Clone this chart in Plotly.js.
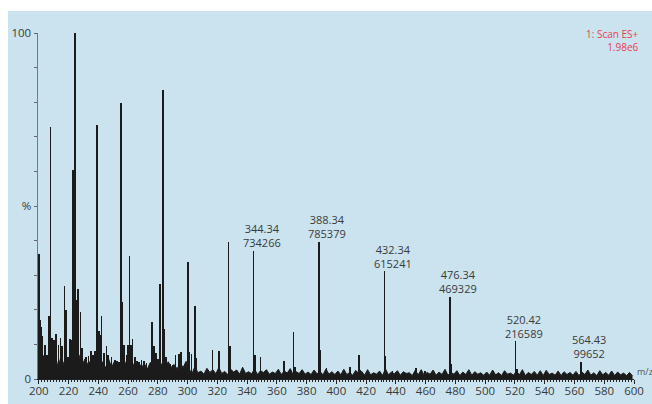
<!DOCTYPE html>
<html>
<head>
<meta charset="utf-8">
<script src="https://cdn.plot.ly/plotly-3.0.1.min.js"></script>
<style>
html,body{margin:0;padding:0;background:#ffffff;width:652px;height:404px;overflow:hidden;}
#chart{position:absolute;left:8px;top:11px;width:644px;height:393px;}
</style>
</head>
<body>
<div id="chart"></div>
<script>
// Centroid peaks (m/z, relative intensity %)
const peakMz = [200.0,200.7,201.8,202.4,204.0,205.6,206.9,208.0,209.1,210.3,211.8,213.2,214.5,215.6,217.2,218.1,219.7,221.2,222.1,223.0,224.2,225.3,226.4,228.0,229.1,231.6,233.4,234.9,236.5,237.8,239.2,240.3,241.2,242.1,243.7,245.5,246.4,247.7,249.0,251.1,252.7,254.0,255.1,256.2,257.1,258.9,260.0,260.9,262.0,262.9,264.5,266.1,267.4,269.0,270.6,272.4,273.9,275.5,276.2,277.3,278.6,280.2,281.3,283.3,284.2,285.4,286.9,288.5,290.3,291.9,294.1,295.5,300.2,301.1,302.6,305.1,306.0,316.8,321.0,327.5,328.4,332.9,344.34,345.2,349.0,364.9,371.2,372.1,388.34,389.4,393.4,401.3,409.1,415.0,415.8,432.34,433.1,437.6,453.3,459.5,476.34,477.4,520.42,521.5,564.43,565.3];
const peakInt = [36,17,15,12.3,9.9,7,18.3,72.8,11.8,11.4,13,9.9,11.8,9.4,27,20,6.5,11.6,11.4,60.5,100,22.9,26.1,19.5,9,6.4,6.7,8,7,8,73.5,13.8,12.8,18.1,7.5,9.4,7,3.6,6.4,5.6,5.3,5,79.8,22.4,9.9,7,9.9,35.6,9.9,11.6,6.5,5.1,4.8,5.6,5.3,4.6,3.2,4.6,16.5,9.4,7.5,5.9,27.5,83.4,14.5,6.5,4.6,4.4,4.1,7,7.3,7.8,33.7,7.8,7.3,21,6,8.3,8.2,39.6,9.4,2.7,37.1,7,6.4,5.3,13.6,3.6,39.7,8.5,3.2,2.0,3.6,7,2.5,31.1,6.7,2.2,3.2,2.2,23.7,4.4,10.9,2.9,5.0,2.0];

// Baseline noise (m/z, relative intensity %)
const noiseMz = [201,203,205,207,209,211,213,215,217,219,
221,223,225,227,229,231,233,235,237,239,
241,243,245,247,249,251,253,255,257,259,
261,263,265,267,269,271,273,275,277,279,
281,283,285,287,289,291,293,295,297,299,
301,303,305,307,309,311,313,315,317,319,
321,323,325,327,329,331,333,335,337,339,
341,343,345,347,349,351,353,355,357,359,
361,363,365,367,369,371,373,375,377,379,
381,383,385,387,389,391,393,395,397,399,
401,403,405,407,409,411,413,415,417,419,
421,423,425,427,429,431,433,435,437,439,
441,443,445,447,449,451,453,455,457,459,
461,463,465,467,469,471,473,475,477,479,
481,483,485,487,489,491,493,495,497,499,
501,503,505,507,509,511,513,515,517,519,
521,523,525,527,529,531,533,535,537,539,
541,543,545,547,549,551,553,555,557,559,
561,563,565,567,569,571,573,575,577,579,
581,583,585,587,589,591,593,595,597,599];
const noiseInt = [4.2,6.8,3.6,6.0,3.8,7.2,3.3,6.6,4.0,5.6,
3.4,6.3,4.6,7.0,3.7,5.8,4.2,5.4,3.5,6.1,
3.8,5.0,3.2,5.7,3.4,5.2,3.9,4.6,3.0,5.3,
3.3,4.7,2.8,4.9,3.4,4.4,2.9,4.8,3.2,4.3,
2.8,4.6,3.1,5.0,3.4,4.2,2.9,4.7,3.3,5.1,
2.9,1.6,3.6,1.8,2.3,1.4,3.1,1.9,2.7,1.5,
3.3,1.6,2.2,1.3,2.8,2.0,2.6,1.4,3.4,1.6,
2.1,1.5,2.9,1.3,2.4,1.9,2.7,1.4,2.0,1.6,
2.8,1.3,2.3,1.7,3.0,1.2,2.1,1.6,2.7,1.4,
2.0,1.3,2.6,1.5,2.2,1.2,2.9,1.4,2.1,1.3,
2.3,1.2,2.8,1.3,1.9,1.1,2.5,1.6,2.2,1.1,
2.7,1.2,1.8,1.4,2.3,1.0,2.9,1.2,2.0,1.5,
2.4,1.1,2.1,1.6,1.8,1.0,2.5,1.2,2.7,1.1,
1.9,1.4,2.6,1.1,2.0,1.3,2.8,1.1,1.9,1.4,
2.4,1.0,2.0,1.3,2.7,1.1,2.1,1.4,1.8,1.1,
2.0,1.1,2.6,1.2,1.8,1.0,2.4,1.4,1.7,1.1,
2.3,1.2,2.7,1.0,1.9,1.3,2.2,1.1,2.4,1.0,
2.5,1.3,1.7,1.1,2.3,1.0,2.1,1.3,1.9,1.1,
2.2,1.0,2.0,1.3,2.6,1.1,1.8,1.0,2.4,1.2,
1.9,1.1,2.3,1.0,2.0,1.2,1.7,1.0,1.9,0.9];

// Labelled peaks
const labelMz = ['344.34','388.34','432.34','476.34','520.42','564.43'];
const labelAbs = [734266,785379,615241,469329,216589,99652];
const scanMax = 1.98e6;

// Axis ticks
const xTickVals = [200,220,240,260,280,300,320,340,360,380,400,420,440,460,480,500,520,540,560,580,600];
const yTickVals = [0,10,20,30,40,50,60,70,80,90,100];
const yTickText = ['0','','','','','%','','','','','100'];

const ink = '#1b1b1b';
const txt = '#3a3a3a';
const font = '"Open Sans", "Noto Sans", sans-serif';

const traces = [
  {
    type: 'scatter', mode: 'lines',
    x: noiseMz, y: noiseInt,
    line: {color: ink, width: 1},
    fill: 'tozeroy', fillcolor: ink,
    hoverinfo: 'skip'
  },
  {
    type: 'bar',
    x: peakMz, y: peakInt,
    width: 1.1,
    marker: {color: ink, line: {width: 0}},
    hoverinfo: 'skip'
  }
];

const annotations = [];
labelMz.forEach((m, i) => {
  const xv = parseFloat(m);
  const yv = labelAbs[i] / scanMax * 100;
  annotations.push({x: xv, y: yv, xref: 'x', yref: 'y', text: m + '<br>' + String(labelAbs[i]), showarrow: false,
    xanchor: 'center', yanchor: 'middle', align: 'center', xshift: 8, yshift: 15,
    font: {family: font, size: 11, color: txt}});
});
annotations.push({x: 1, y: 1, xref: 'paper', yref: 'paper', text: '1: Scan ES+<br>1.98e6', showarrow: false,
  xanchor: 'right', yanchor: 'middle', align: 'right', xshift: 7, yshift: -7,
  font: {family: font, size: 10, color: '#e8404c'}});
annotations.push({x: 1, y: 0, xref: 'paper', yref: 'paper', text: 'm/z', showarrow: false,
  xanchor: 'left', yanchor: 'bottom', xshift: 1, yshift: -1,
  font: {family: font, size: 9, color: '#555555'}});

const layout = {
  width: 644, height: 393,
  margin: {l: 30, r: 18, t: 22, b: 25, pad: 0},
  paper_bgcolor: '#cbe3ee',
  plot_bgcolor: '#cbe3ee',
  showlegend: false,
  barmode: 'overlay',
  bargap: 0,
  font: {family: font, size: 11, color: txt},
  xaxis: {
    range: [199.5, 600],
    tickmode: 'array', tickvals: xTickVals,
    ticks: 'outside', ticklen: 4, tickwidth: 1, tickcolor: '#222222',
    ticklabelstandoff: -3,
    showline: true, linecolor: '#222222', linewidth: 1,
    showgrid: false, zeroline: false,
    tickfont: {family: font, size: 11.5, color: txt},
    minor: {dtick: 2, ticks: 'outside', ticklen: 2, tickcolor: '#222222', showgrid: false}
  },
  yaxis: {
    range: [0, 100],
    tickmode: 'array', tickvals: yTickVals, ticktext: yTickText,
    ticks: 'outside', ticklen: 3, tickwidth: 1, tickcolor: '#666666',
    showline: true, linecolor: '#777777', linewidth: 1.5,
    showgrid: false, zeroline: false,
    tickfont: {family: font, size: 11.5, color: txt}
  },
  annotations: annotations
};

Plotly.newPlot('chart', traces, layout, {displayModeBar: false, staticPlot: true});
</script>
</body>
</html>
